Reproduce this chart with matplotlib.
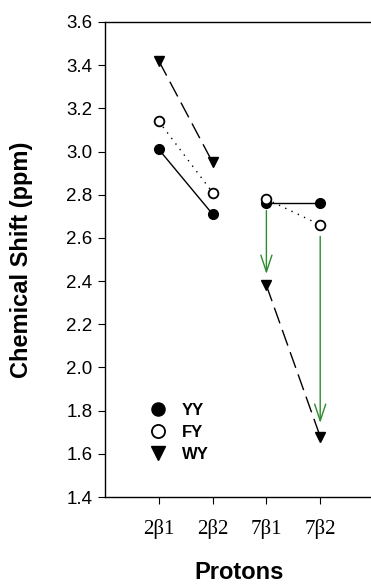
import matplotlib
matplotlib.use("Agg")
import matplotlib.pyplot as plt

protons = ["2β1", "2β2", "7β1", "7β2"]
yy = [3.01, 2.71, 2.76, 2.76]
fy = [3.14, 2.81, 2.78, 2.66]
wy = [3.42, 2.95, 2.38, 1.68]
# green arrows: (proton index, start, end)
arrows = [(3, 2.74, 2.42), (4, 2.62, 1.73)]
yticks = [1.4, 1.6, 1.8, 2.0, 2.2, 2.4, 2.6, 2.8, 3.0, 3.2, 3.4, 3.6]

fig = plt.figure(figsize=(3.71, 5.85), dpi=100)
ax = fig.add_axes([105 / 371, 1 - 497 / 585, 269 / 371, 475 / 585])

x = [1, 2, 3, 4]
ms = 7
for i in (0, 2):
    xs = x[i:i + 2]
    ax.plot(xs, yy[i:i + 2], color="black", lw=1, ls="-", zorder=2)
    ax.plot(xs, fy[i:i + 2], color="black", lw=1, ls=(0, (1, 4)), zorder=2)
    ax.plot(xs, wy[i:i + 2], color="black", lw=1, ls=(0, (12, 5)), zorder=2)

ax.plot(x, yy, ls="none", marker="o", ms=ms, mfc="black", mec="black", label="YY", zorder=4)
ax.plot(x, fy, ls="none", marker="o", ms=ms, mfc="white", mec="black", mew=1.3, label="FY", zorder=5)
ax.plot(x, wy, ls="none", marker="v", ms=ms, mfc="black", mec="black", label="WY", zorder=4)

for xi, y0, y1 in arrows:
    ax.annotate("", xy=(xi, y1), xytext=(xi, y0),
                arrowprops=dict(arrowstyle="->,head_length=1.2,head_width=0.4",
                                color="#2e8b2e", lw=1), zorder=3)

ax.set_xlim(0, 5)
ax.set_ylim(1.4, 3.6)
ax.set_yticks(yticks)
ax.set_yticklabels([f"{v:.1f}" for v in yticks], fontfamily="Liberation Sans", fontsize=13.5)
ax.set_xticks(x)
ax.set_xticklabels(protons, fontfamily="Liberation Serif", fontsize=15)
ax.tick_params(axis="x", direction="out", length=5, pad=11)
ax.tick_params(axis="y", direction="out", length=5, pad=4)
ax.spines["right"].set_visible(False)
for s in ("left", "bottom", "top"):
    ax.spines[s].set_linewidth(1)

ax.set_xlabel("Protons", fontfamily="Liberation Sans", fontweight="bold", fontsize=17)
ax.xaxis.set_label_coords(0.5, -0.135)
ax.xaxis.label.set_verticalalignment("top")
ax.set_ylabel("Chemical Shift (ppm)", fontfamily="Liberation Sans", fontweight="bold", fontsize=17)
ax.yaxis.set_label_coords(-83 / 269, 0.5)
ax.yaxis.label.set_verticalalignment("center")

ax.legend(loc="lower left", bbox_to_anchor=(0.107, 0.042), frameon=False,
          prop={"family": "Liberation Sans", "weight": "bold", "size": 12},
          markerscale=1.35, handlelength=1.1, handletextpad=0.9, labelspacing=0.42)

fig.savefig("out.png", dpi=100)
